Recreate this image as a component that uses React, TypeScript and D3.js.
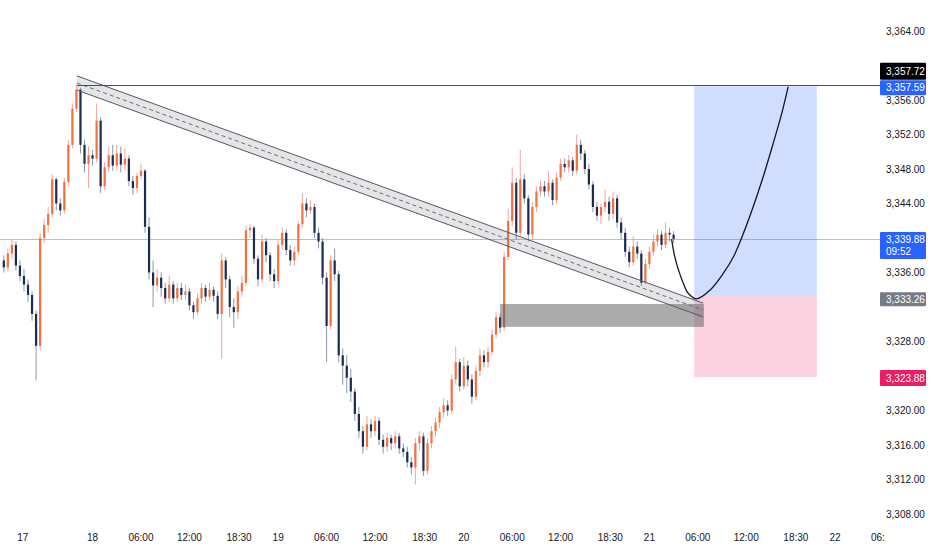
import * as d3 from 'd3';
import React, { useEffect, useRef } from 'react';

const WIDTH = 932;
const HEIGHT = 550;
const PLOT_RIGHT = 880;

// 30 minute bars (open of each bar = previous close)
const firstOpen = 3337.4;
const closes = [
    3336.6, 3338.2, 3339.2, 3336.8, 3335.6, 3334.6, 3333.4, 3331.2, 3327.5, 3340.0,
    3341.5, 3342.8, 3346.8, 3344.0, 3343.2, 3346.5, 3350.8, 3355.0, 3357.2, 3350.8,
    3348.6, 3349.6, 3349.2, 3353.6, 3346.0, 3348.2, 3349.6, 3348.4, 3349.8, 3348.5,
    3349.2, 3346.6, 3345.8, 3347.2, 3347.8, 3341.3, 3336.0, 3334.5, 3335.4, 3334.2,
    3333.0, 3334.6, 3333.0, 3334.2, 3333.4, 3333.8, 3332.2, 3331.4, 3333.0, 3334.2,
    3333.2, 3334.0, 3333.3, 3331.2, 3337.4, 3335.2, 3332.0, 3331.4, 3333.8, 3334.8,
    3340.9, 3341.2, 3337.6, 3335.2, 3339.6, 3338.0, 3335.8, 3335.0, 3339.2, 3340.6,
    3338.6, 3337.4, 3338.4, 3341.6, 3344.0, 3343.2, 3343.6, 3340.6, 3339.6, 3335.4,
    3329.8, 3337.4, 3335.8, 3326.4, 3325.2, 3323.8, 3322.2, 3319.6, 3317.6, 3315.8,
    3318.4, 3317.6, 3318.8, 3316.6, 3315.8, 3316.8, 3316.2, 3317.0, 3315.6, 3315.2,
    3314.0, 3313.4, 3316.2, 3317.0, 3313.0, 3316.2, 3317.6, 3318.6, 3319.8, 3320.6,
    3320.0, 3323.6, 3325.6, 3322.8, 3325.2, 3323.6, 3321.6, 3324.6, 3326.4, 3325.6,
    3326.8, 3328.8, 3330.8, 3329.6, 3337.8, 3342.0, 3346.4, 3340.6, 3346.8, 3344.6,
    3340.4, 3343.6, 3345.4, 3346.0, 3345.4, 3346.4, 3344.4, 3347.0, 3348.6, 3348.2,
    3349.0, 3347.8, 3350.8, 3349.8, 3348.0, 3346.2, 3343.6, 3342.6, 3343.6, 3344.2,
    3342.8, 3344.6, 3341.8, 3340.6, 3338.4, 3337.2, 3339.0, 3338.2, 3334.8, 3337.0,
    3338.4, 3339.6, 3340.4, 3339.2, 3340.6, 3340.4, 3339.88,
];
const highs = [
    3338.0, 3338.8, 3339.8, 3339.6, 3337.4, 3336.4, 3335.2, 3333.8, 3331.6, 3340.6,
    3342.2, 3343.6, 3347.4, 3347.0, 3344.6, 3347.0, 3351.4, 3355.6, 3357.72, 3357.4,
    3351.4, 3350.6, 3350.2, 3355.6, 3354.0, 3348.8, 3350.6, 3350.8, 3350.8, 3350.6,
    3350.4, 3349.6, 3347.2, 3347.6, 3348.6, 3348.0, 3342.4, 3337.4, 3336.4, 3336.0,
    3334.8, 3335.6, 3335.0, 3334.8, 3334.8, 3334.6, 3334.2, 3332.6, 3333.6, 3334.8,
    3334.6, 3334.8, 3334.4, 3333.8, 3338.2, 3337.8, 3335.6, 3333.0, 3334.4, 3335.6,
    3341.4, 3341.6, 3341.4, 3338.0, 3340.4, 3340.0, 3338.4, 3336.4, 3339.8, 3341.2,
    3341.0, 3339.2, 3339.0, 3342.0, 3345.2, 3344.6, 3344.4, 3344.0, 3341.2, 3340.0,
    3336.0, 3338.0, 3338.8, 3336.2, 3327.2, 3326.4, 3324.8, 3322.6, 3320.4, 3318.2,
    3319.4, 3319.0, 3319.4, 3319.2, 3317.2, 3317.4, 3317.2, 3317.6, 3317.4, 3316.2,
    3315.8, 3314.6, 3316.8, 3317.6, 3317.4, 3316.8, 3318.2, 3319.2, 3320.4, 3321.4,
    3321.2, 3324.2, 3327.4, 3326.0, 3326.2, 3325.8, 3324.2, 3325.2, 3327.2, 3327.0,
    3327.4, 3329.4, 3331.4, 3331.2, 3338.4, 3343.4, 3348.2, 3347.0, 3350.2, 3347.4,
    3345.0, 3344.2, 3346.0, 3346.6, 3346.6, 3347.8, 3346.8, 3347.6, 3349.2, 3349.2,
    3349.6, 3349.4, 3352.0, 3351.4, 3350.2, 3348.6, 3346.6, 3344.2, 3344.0, 3345.6,
    3344.8, 3345.4, 3345.0, 3342.4, 3341.2, 3339.0, 3340.2, 3339.6, 3338.6, 3337.6,
    3339.0, 3340.4, 3341.0, 3340.8, 3341.8, 3341.2, 3340.8,
];
const lows = [
    3336.0, 3336.2, 3337.6, 3336.2, 3335.0, 3333.8, 3332.6, 3330.4, 3323.5, 3327.0,
    3339.4, 3340.6, 3342.4, 3343.2, 3342.6, 3342.8, 3346.0, 3350.4, 3354.6, 3349.8,
    3347.6, 3345.8, 3348.4, 3348.8, 3345.2, 3345.6, 3347.6, 3347.8, 3347.8, 3347.6,
    3347.8, 3346.0, 3345.0, 3345.2, 3346.8, 3340.6, 3335.2, 3332.0, 3333.8, 3333.2,
    3332.4, 3332.6, 3332.4, 3332.6, 3332.8, 3332.8, 3331.6, 3330.6, 3331.0, 3332.4,
    3332.6, 3332.8, 3332.6, 3330.6, 3326.0, 3334.2, 3330.8, 3329.6, 3330.6, 3333.2,
    3334.4, 3340.0, 3337.0, 3334.4, 3334.8, 3337.2, 3335.0, 3334.2, 3334.6, 3338.6,
    3338.0, 3336.8, 3336.8, 3338.0, 3341.2, 3342.4, 3342.8, 3340.0, 3338.8, 3334.6,
    3325.6, 3329.4, 3335.0, 3325.6, 3323.0, 3322.0, 3321.0, 3318.8, 3316.8, 3315.0,
    3315.4, 3316.8, 3317.0, 3316.0, 3315.0, 3315.2, 3315.4, 3315.6, 3315.0, 3314.6,
    3313.4, 3312.6, 3311.4, 3315.4, 3312.4, 3312.6, 3315.6, 3317.0, 3318.0, 3319.2,
    3319.4, 3319.6, 3323.0, 3322.2, 3322.4, 3322.8, 3320.8, 3321.2, 3324.0, 3325.0,
    3325.0, 3326.4, 3328.4, 3329.0, 3329.2, 3337.4, 3341.4, 3339.8, 3340.2, 3344.0,
    3339.6, 3339.8, 3343.0, 3344.8, 3344.8, 3344.8, 3343.8, 3344.0, 3346.6, 3347.6,
    3347.6, 3347.2, 3347.4, 3349.0, 3347.4, 3345.6, 3343.0, 3342.0, 3341.6, 3343.0,
    3342.0, 3342.2, 3341.2, 3339.8, 3337.8, 3336.6, 3336.8, 3337.6, 3334.4, 3334.6,
    3336.4, 3338.0, 3339.0, 3338.6, 3338.8, 3339.6, 3339.4,
];

const timeTickBars = [4.7, 22, 34, 46, 58.3, 68, 80, 92, 104.3, 114, 126, 138, 150.3, 160, 172, 184, 196.3, 206, 218];
const timeTickLabels = ['17', '18', '06:00', '12:00', '18:30', '19', '06:00', '12:00', '18:30', '20', '06:00', '12:00', '18:30', '21', '06:00', '12:00', '18:30', '22', '06:00'];
const priceTicks = [3308, 3312, 3316, 3320, 3324, 3328, 3332, 3336, 3340, 3344, 3348, 3352, 3356, 3360, 3364];

// drawings on the chart
const resistancePrice = 3357.72;
const resistanceStartBar = 18.1;
const lastPrice = 3339.88;
const countdown = '09:52';
const channelBars = [18.1, 173.3];
const channelTop = [3358.8, 3332.45];
const channelBottom = [3357.15, 3330.85];
const zoneBars = [123, 173.5];
const zonePrices = [3329.7, 3332.35];
const positionBars = [171.1, 201.5];
const targetPrice = 3357.59;
const entryPrice = 3333.26;
const stopPrice = 3323.88;
const pathBars = [165.5, 166.3, 167.2, 168.4, 169.6, 171.7, 175.0, 178.3, 180.8, 183.3, 185.7, 188.2, 190.7, 192.8, 194.4];
const pathPrices = [3339.88, 3337.8, 3336.3, 3334.75, 3333.6, 3332.95, 3333.95, 3335.9, 3337.8, 3340.55, 3343.6, 3347.1, 3351.0, 3354.45, 3357.55];

const UP = '#f4703f';
const UP_WICK = '#f2a3a3';
const DOWN = '#1c2b50';
const DOWN_WICK = '#8d96a8';
const FONT = "'Liberation Sans', Arial, sans-serif";

const fmt = d3.format(',.2f');

const App: React.FC = () => {
    const svgRef = useRef<SVGSVGElement | null>(null);

    useEffect(() => {
        if (!svgRef.current) return;
        const svg = d3.select(svgRef.current);
        svg.selectAll('*').remove();

        const x = d3
            .scaleLinear()
            .domain([0, 200])
            .range([3.8, 3.8 + 200 * 4.035]);
        const y = d3.scaleLinear().domain([3308, 3364]).range([514, 31]);
        const crisp = (v: number) => Math.round(v) + 0.5;

        const candles = closes.map((c, i) => ({
            i,
            open: i === 0 ? firstOpen : closes[i - 1],
            close: c,
            high: highs[i],
            low: lows[i],
        }));

        const defs = svg.append('defs');
        defs.append('clipPath')
            .attr('id', 'plot-clip')
            .append('rect')
            .attr('width', PLOT_RIGHT)
            .attr('height', 522);
        defs.append('clipPath')
            .attr('id', 'time-clip')
            .append('rect')
            .attr('width', 885)
            .attr('height', HEIGHT);

        const plot = svg.append('g').attr('clip-path', 'url(#plot-clip)');

        // last price line
        plot.append('line')
            .attr('x1', 0)
            .attr('x2', PLOT_RIGHT)
            .attr('y1', crisp(y(lastPrice)))
            .attr('y2', crisp(y(lastPrice)))
            .attr('stroke', '#2962ff')
            .attr('stroke-opacity', 0.4);

        // long position
        plot.append('rect')
            .attr('x', x(positionBars[0]))
            .attr('width', x(positionBars[1]) - x(positionBars[0]))
            .attr('y', y(targetPrice))
            .attr('height', y(entryPrice) - y(targetPrice))
            .attr('fill', 'rgba(41,98,255,0.22)');
        plot.append('rect')
            .attr('x', x(positionBars[0]))
            .attr('width', x(positionBars[1]) - x(positionBars[0]))
            .attr('y', y(entryPrice))
            .attr('height', y(stopPrice) - y(entryPrice))
            .attr('fill', 'rgba(233,30,99,0.2)');

        // candles
        const g = plot.append('g');
        const bw = 2.2;
        g.selectAll('line.wick')
            .data(candles)
            .join('line')
            .attr('class', 'wick')
            .attr('x1', (d) => x(d.i))
            .attr('x2', (d) => x(d.i))
            .attr('y1', (d) => y(d.high))
            .attr('y2', (d) => y(d.low))
            .attr('stroke', (d) => (d.close >= d.open ? UP_WICK : DOWN_WICK))
            .attr('stroke-width', 1);
        g.selectAll('rect.body')
            .data(candles)
            .join('rect')
            .attr('class', 'body')
            .attr('x', (d) => x(d.i) - bw / 2)
            .attr('width', bw)
            .attr('y', (d) => y(Math.max(d.open, d.close)))
            .attr('height', (d) => Math.max(1, Math.abs(y(d.open) - y(d.close))))
            .attr('fill', (d) => (d.close >= d.open ? UP : DOWN));

        // demand zone
        plot.append('rect')
            .attr('x', x(zoneBars[0]))
            .attr('width', x(zoneBars[1]) - x(zoneBars[0]))
            .attr('y', y(zonePrices[1]))
            .attr('height', y(zonePrices[0]) - y(zonePrices[1]))
            .attr('fill', 'rgba(95,95,95,0.52)');

        // descending channel
        const pt = (bar: number, price: number) => [x(bar), y(price)] as [number, number];
        const band = [
            pt(channelBars[0], channelTop[0]),
            pt(channelBars[1], channelTop[1]),
            pt(channelBars[1], channelBottom[1]),
            pt(channelBars[0], channelBottom[0]),
        ];
        plot.append('polygon')
            .attr('points', band.map((p) => p.join(',')).join(' '))
            .attr('fill', 'rgba(120,123,134,0.2)');
        [channelTop, channelBottom].forEach((line) => {
            plot.append('line')
                .attr('x1', x(channelBars[0]))
                .attr('y1', y(line[0]))
                .attr('x2', x(channelBars[1]))
                .attr('y2', y(line[1]))
                .attr('stroke', '#55585f')
                .attr('stroke-width', 1);
        });
        plot.append('line')
            .attr('x1', x(channelBars[0]))
            .attr('y1', y((channelTop[0] + channelBottom[0]) / 2))
            .attr('x2', x(channelBars[1]))
            .attr('y2', y((channelTop[1] + channelBottom[1]) / 2))
            .attr('stroke', '#6a6d75')
            .attr('stroke-width', 1)
            .attr('stroke-dasharray', '4,3');

        // resistance line from the high
        plot.append('line')
            .attr('x1', x(resistanceStartBar))
            .attr('x2', PLOT_RIGHT)
            .attr('y1', crisp(y(resistancePrice)))
            .attr('y2', crisp(y(resistancePrice)))
            .attr('stroke', '#4a4d55')
            .attr('stroke-width', 1);

        // projected path
        const projected = d3
            .line<number>()
            .x((d) => x(d))
            .y((_, i) => y(pathPrices[i]))
            .curve(d3.curveCatmullRom.alpha(0.5));
        plot.append('path')
            .attr('d', projected(pathBars))
            .attr('fill', 'none')
            .attr('stroke', '#131722')
            .attr('stroke-width', 1.3);

        // price tags (axis ticks hidden under them are skipped)
        const tags = [
            { top: y(resistancePrice) - 22.5, h: 17, bg: '#000000', lines: [fmt(resistancePrice)] },
            { top: y(targetPrice) - 6, h: 15, bg: '#2962ff', lines: [fmt(targetPrice)] },
            { top: y(lastPrice) - 7, h: 27, bg: '#2962ff', lines: [fmt(lastPrice), countdown] },
            { top: y(entryPrice) - 4, h: 14, bg: '#787b86', lines: [fmt(entryPrice)] },
            { top: y(stopPrice) - 7, h: 16, bg: '#e91e63', lines: [fmt(stopPrice)] },
        ];
        const visibleTicks = priceTicks.filter(
            (p) => !tags.some((t) => y(p) > t.top - 4 && y(p) < t.top + t.h + 3),
        );

        // price axis
        svg.append('g')
            .selectAll('text')
            .data(visibleTicks)
            .join('text')
            .attr('x', 886)
            .attr('y', (d) => y(d))
            .attr('dy', '0.35em')
            .attr('font-family', FONT)
            .attr('font-size', 10)
            .attr('fill', '#131722')
            .text((d) => fmt(d));

        // time axis
        svg.append('g')
            .attr('clip-path', 'url(#time-clip)')
            .selectAll('text')
            .data(timeTickBars)
            .join('text')
            .attr('x', (d) => x(d))
            .attr('y', 537)
            .attr('dy', '0.35em')
            .attr('text-anchor', 'middle')
            .attr('font-family', FONT)
            .attr('font-size', 10)
            .attr('fill', '#131722')
            .text((_, i) => timeTickLabels[i]);

        tags.forEach((t) => {
            const tg = svg.append('g');
            tg.append('rect')
                .attr('x', 880)
                .attr('y', t.top)
                .attr('width', 46)
                .attr('height', t.h)
                .attr('rx', 1)
                .attr('fill', t.bg);
            t.lines.forEach((s, k) => {
                tg.append('text')
                    .attr('x', 886)
                    .attr('y', t.top + t.h / t.lines.length / 2 + k * 12.5 + (t.lines.length > 1 ? 0.5 : 0))
                    .attr('dy', '0.35em')
                    .attr('font-family', FONT)
                    .attr('font-size', 10)
                    .attr('fill', '#ffffff')
                    .text(s);
            });
        });
    }, []);

    return (
        <svg
            ref={svgRef}
            width={WIDTH}
            height={HEIGHT}
            style={{ position: 'absolute', left: 0, top: 0, background: '#ffffff' }}
        />
    );
};

export default App;
